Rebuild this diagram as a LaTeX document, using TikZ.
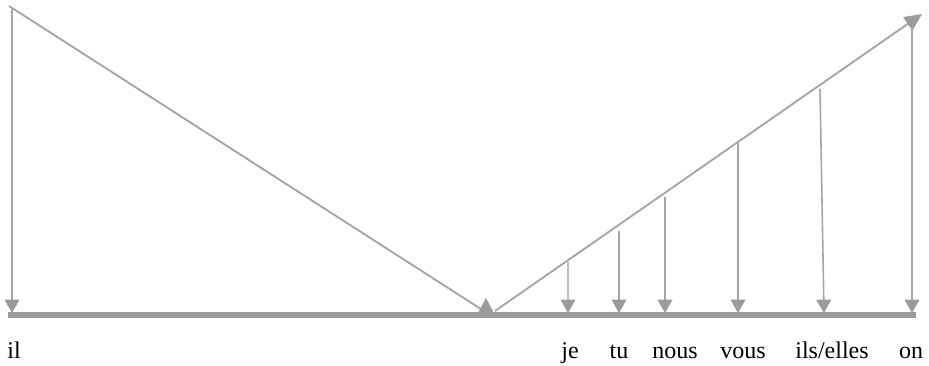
\documentclass[tikz,border=0pt]{standalone}
\usepackage{fontspec}
\setmainfont{Liberation Serif}
\usetikzlibrary{arrows.meta}

\definecolor{linegray}{RGB}{165,165,165}
\definecolor{lightgray}{RGB}{190,190,190}
\definecolor{bargray}{RGB}{155,155,155}

\tikzset{
  pron/.style={anchor=base, inner sep=0pt, font=\fontsize{18}{20}\selectfont},
  drop/.style={draw=linegray, line width=1.2pt, -{Triangle[width=11pt,length=10pt,color=bargray]}},
  slope/.style={draw=linegray, line width=1.4pt}
}

\begin{document}
\begin{tikzpicture}[x=0.75pt, y=-0.75pt]
    \useasboundingbox (0,0) rectangle (929,366);

    % the axis and the two slopes
    \coordinate (topleft) at (9,6);
    \coordinate (vertexl) at (484,311);
    \coordinate (vertexr) at (495,311);
    \coordinate (topright) at (922,14);
    \coordinate (axisstart) at (8,315);
    \coordinate (axisend) at (916,315);
    \draw[bargray, line width=4.5pt] (axisstart) -- (axisend);
    \draw[slope] (topleft) -- (vertexl);
    \draw[slope, -{Triangle[width=12pt,length=13pt,color=bargray]}] (vertexr) -- (topright);
    \fill[bargray] (478,313) -- (486,298) -- (494,313) -- cycle;

    % left drop
    \coordinate (iltop) at (12,9);
    \coordinate (ilfoot) at (12,313);
    \draw[drop] (iltop) -- (ilfoot);

    % drops from the right slope
    \foreach \name/\xa/\ya/\xb in {tu/619/231/619, nous/665/197/665, vous/738/143/738,
                                   ilselles/820/89/824, on/912/27/912} {
      \coordinate (\name top) at (\xa,\ya);
      \coordinate (\name foot) at (\xb,313);
      \draw[drop] (\name top) -- (\name foot);
    }
    \coordinate (jetop) at (568,262);
    \coordinate (jefoot) at (568,313);
    \draw[drop, draw=lightgray, line width=1pt] (jetop) -- (jefoot);

    % pronouns
    \node[pron] (il) at (14,359) {il};
    \node[pron] (je) at (570,359) {je};
    \node[pron] (tu) at (619,359) {tu};
    \node[pron] (nous) at (675,359) {nous};
    \node[pron] (vous) at (743,359) {vous};
    \node[pron] (ilselles) at (832,359) {ils/elles};
    \node[pron] (on) at (911,359) {on};
\end{tikzpicture}
\end{document}
